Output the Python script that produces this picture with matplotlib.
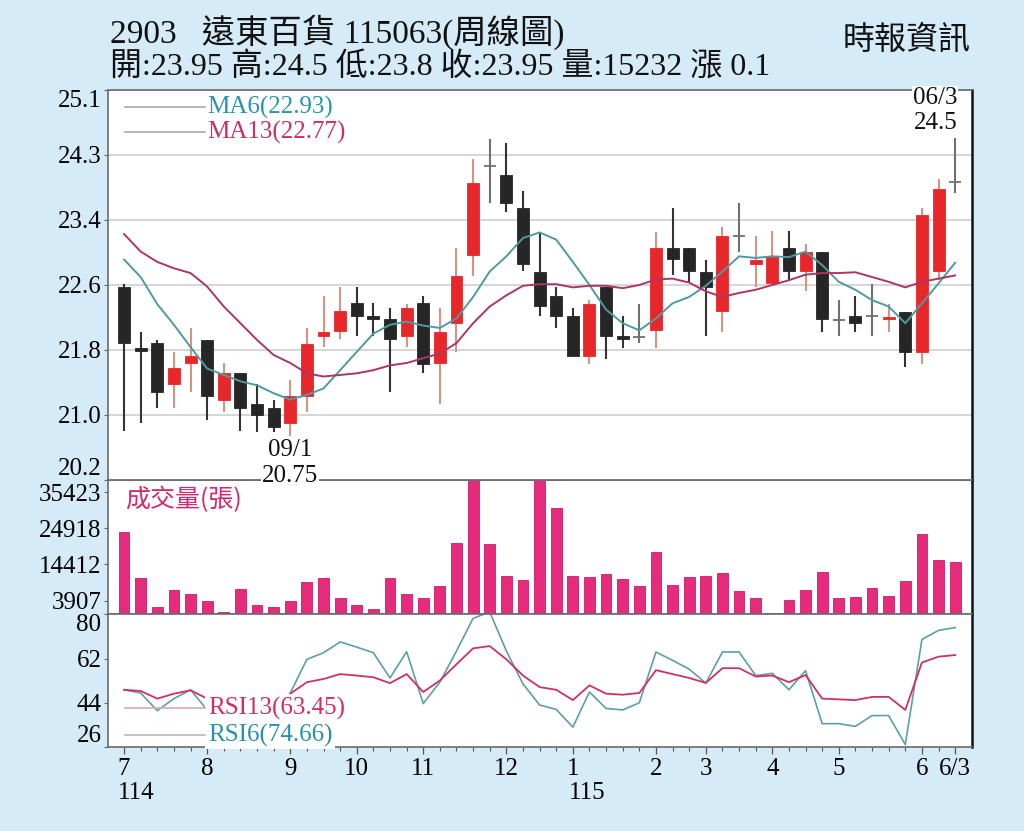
import matplotlib
matplotlib.use("Agg")
import matplotlib.pyplot as plt
import matplotlib.transforms as mtransforms
import numpy as np

# weekly candles, 114/07 .. 115/06/3
opens = [22.62, 21.86, 21.92, 21.41, 21.67, 21.96, 21.21, 21.55, 21.15, 21.10,
         20.91, 21.26, 22.01, 22.07, 22.42, 22.26, 22.22, 22.01, 22.42, 21.67,
         22.17, 23.03, 24.14, 24.03, 23.62, 22.81, 22.51, 22.26, 21.76, 22.62,
         22.01, 22.00, 22.08, 23.12, 23.12, 22.81, 22.32, 23.27, 22.92, 22.67,
         23.12, 22.82, 23.07, 22.21, 22.26, 22.26, 22.22, 22.31, 21.81, 22.82,
         23.95]
highs = [22.66, 22.06, 21.96, 21.81, 22.11, 21.96, 21.67, 21.55, 21.41, 21.21,
         21.46, 22.11, 22.51, 22.62, 22.62, 22.42, 22.36, 22.41, 22.51, 22.36,
         23.12, 24.23, 24.48, 24.44, 23.83, 23.31, 22.62, 22.36, 22.46, 22.62,
         22.26, 22.41, 23.32, 23.62, 23.12, 22.97, 23.38, 23.68, 23.27, 23.33,
         23.33, 23.17, 23.07, 22.46, 22.51, 22.66, 22.41, 22.31, 23.62, 23.98,
         24.50]
lows = [20.81, 20.91, 21.10, 21.10, 21.30, 20.95, 21.05, 20.81, 20.80, 20.80,
        20.75, 21.05, 21.87, 21.97, 22.01, 22.01, 21.30, 21.87, 21.55, 21.15,
        21.81, 22.76, 23.68, 23.57, 22.82, 22.26, 22.11, 21.76, 21.66, 21.72,
        21.86, 21.92, 21.86, 22.77, 22.67, 22.01, 22.06, 23.07, 22.62, 22.67,
        22.71, 22.57, 22.06, 22.01, 22.06, 22.01, 22.06, 21.62, 21.66, 22.71,
        23.80]
closes = [21.92, 21.82, 21.31, 21.61, 21.76, 21.26, 21.55, 21.11, 21.02, 20.86,
          21.26, 21.91, 22.06, 22.32, 22.26, 22.22, 21.97, 22.36, 21.66, 22.06,
          22.76, 23.93, 24.14, 23.68, 22.92, 22.38, 22.26, 21.76, 22.41, 22.01,
          21.97, 22.00, 23.12, 22.98, 22.82, 22.62, 23.27, 23.27, 22.96, 23.01,
          22.82, 23.07, 22.22, 22.21, 22.17, 22.26, 22.25, 21.81, 23.53, 23.85,
          23.95]
volumes = [23733, 10591, 1961, 6865, 5688, 3727, 490, 7355, 2746, 1961,
           3727, 9317, 10591, 4707, 2746, 1569, 10591, 5688, 4707, 8140,
           20595, 41000, 20398, 10984, 10003, 41000, 30892, 10984, 10788, 11572,
           10297, 8042, 18045, 8532, 10788, 10984, 11965, 6571, 4609, 392,
           4217, 6963, 12259, 4609, 4805, 7453, 5100, 9513, 23242, 15789,
           15232]
ma6 = [22.97, 22.75, 22.41, 22.15, 21.87, 21.60, 21.52, 21.44, 21.39, 21.29,
       21.21, 21.27, 21.35, 21.58, 21.81, 22.04, 22.15, 22.19, 22.14, 22.11,
       22.23, 22.50, 22.82, 23.01, 23.24, 23.31, 23.22, 22.94, 22.65, 22.34,
       22.17, 22.08, 22.23, 22.42, 22.50, 22.64, 22.82, 23.01, 22.99, 23.01,
       23.00, 23.07, 22.90, 22.69, 22.59, 22.46, 22.38, 22.17, 22.42, 22.67,
       22.93]
ma13 = [23.29, 23.07, 22.94, 22.86, 22.80, 22.63, 22.38, 22.17, 21.96, 21.77,
        21.67, 21.54, 21.50, 21.52, 21.54, 21.58, 21.64, 21.67, 21.73, 21.79,
        21.92, 22.17, 22.38, 22.52, 22.64, 22.66, 22.66, 22.62, 22.64, 22.64,
        22.61, 22.65, 22.72, 22.73, 22.68, 22.57, 22.50, 22.55, 22.59, 22.65,
        22.71, 22.78, 22.80, 22.80, 22.81, 22.75, 22.69, 22.62, 22.69, 22.73,
        22.77]
rsi13 = [49.3, 48.8, 45.7, 47.7, 49.1, 45.7, 44.5, 43.5, 43.0, 42.5,
         47.7, 52.4, 53.7, 55.7, 55.1, 54.4, 52.0, 55.7, 48.4, 53.1,
         59.7, 66.2, 67.1, 61.7, 55.1, 50.4, 49.3, 45.1, 51.1, 47.7,
         47.3, 48.0, 57.3, 55.7, 54.1, 52.1, 58.1, 58.1, 54.7, 55.1,
         52.4, 55.3, 45.7, 45.4, 45.1, 46.4, 46.4, 41.1, 60.4, 62.8,
         63.45]
rsi6 = [49.3, 48.0, 40.8, 45.7, 49.3, 41.1, 36.0, 32.0, 30.0, 30.0,
        48.0, 61.7, 64.4, 68.8, 66.7, 64.4, 54.1, 64.8, 43.7, 52.4,
        65.1, 78.4, 81.0, 65.1, 51.7, 43.1, 41.3, 34.1, 48.4, 41.7,
        41.1, 44.0, 64.7, 61.3, 57.7, 52.0, 64.7, 64.7, 55.1, 56.0,
        49.3, 57.1, 35.5, 35.5, 34.4, 38.8, 38.8, 27.0, 69.8, 73.5,
        74.66]

month_pos = [0, 5, 10, 14, 18, 23, 27, 32, 35, 39, 43, 48, 50]
month_labels = ["7", "8", "9", "10", "11", "12", "1", "2", "3", "4", "5", "6", "6/3"]
price_ticks = [20.2, 21.0, 21.8, 22.6, 23.4, 24.3, 25.1]
vol_ticks = [3907, 14412, 24918, 35423]
rsi_ticks = [26, 44, 62, 80]

BG = "#d5ebf8"
SERIF = ["Liberation Serif", "Noto Sans CJK TC"]
CJK = ["Noto Sans CJK TC", "Liberation Serif"]
plt.rcParams["font.family"] = SERIF

x = np.arange(len(closes))
fig = plt.figure(figsize=(10.24, 8.31), dpi=100, facecolor=BG)
L, W = 0.1058, 0.8432
ax = fig.add_axes([L, 0.4224, W, 0.4693])
axv = fig.add_axes([L, 0.2611, W, 0.1613])
axr = fig.add_axes([L, 0.1011, W, 0.1601])
ax.set_zorder(3)

for a in (ax, axv, axr):
    a.set_xlim(-0.945, 51.0)
    for s in ("left", "top", "bottom"):
        a.spines[s].set_color("#6a6a6a")
        a.spines[s].set_linewidth(1.2)
    a.spines["right"].set_color("#111111")
    a.spines["right"].set_linewidth(1.8)
    a.tick_params(axis="y", length=3, width=0.8, color="#666666", pad=2, labelsize=18)

# ---- price panel
ax.set_ylim(20.2, 25.1)
ax.set_yticks(np.linspace(20.2, 25.1, 7), [f"{v:.1f}" for v in price_ticks])
ax.grid(axis="y", color="#cfcfcf", lw=1.2)
ax.set_axisbelow(True)
ax.set_xticks([])

for i in x:
    o, h, l, c = opens[i], highs[i], lows[i], closes[i]
    if c > o:
        body, wick = "#e8272b", "#d39482"
    elif c < o:
        body, wick = "#262626", "#333333"
    else:
        body, wick = "#707070", "#707070"
    ax.vlines(i, l, h, color=wick, lw=1.5, zorder=2)
    if c == o:
        ax.hlines(c, i - 0.36, i + 0.36, color=body, lw=1.3, zorder=3)
    else:
        ax.bar(i, max(abs(c - o), 0.03), 0.72, bottom=min(o, c), color=body,
               edgecolor=body, lw=0.6, zorder=3)

ax.plot(x, ma6, color="#4e9aa3", lw=1.4, zorder=4)
ax.plot(x, ma13, color="#ad3664", lw=1.4, zorder=4)

ax.plot([0.0193, 0.112], [0.956, 0.956], transform=ax.transAxes, color="#a9a9a9", lw=1.2)
ax.plot([0.0193, 0.112], [0.892, 0.892], transform=ax.transAxes, color="#a9a9a9", lw=1.2)
ax.text(0.114, 0.956, "MA6(22.93)", transform=ax.transAxes, color="#2a93ae",
        fontsize=18, va="center", ha="left")
ax.text(0.114, 0.892, "MA13(22.77)", transform=ax.transAxes, color="#c7306a",
        fontsize=18, va="center", ha="left")

white = dict(facecolor="white", edgecolor="none", pad=0.5)
ax.annotate("09/1", xy=(10, 20.75), xytext=(0, -14), textcoords="offset pixels",
            ha="center", va="center", fontsize=18, color="#111111")
ax.annotate("20.75", xy=(10, 20.75), xytext=(0, -40), textcoords="offset pixels",
            ha="center", va="center", fontsize=18, color="#111111", bbox=white,
            annotation_clip=False)
ax.annotate("24.5", xy=(50, 24.5), xytext=(2, 15), textcoords="offset pixels",
            ha="right", va="center", fontsize=18, color="#111111")
ax.annotate("06/3", xy=(50, 24.5), xytext=(2, 40), textcoords="offset pixels",
            ha="right", va="center", fontsize=18, color="#111111", bbox=white,
            annotation_clip=False)

# ---- volume panel
axv.set_ylim(0, 38925)
axv.bar(x, volumes, 0.65, color="#e62a7c", edgecolor="#c81f66", lw=0.6)
axv.set_yticks(vol_ticks, [str(v) for v in vol_ticks])
axv.set_xticks([])
axv.text(0.0193, 0.85, "成交量(張)", transform=axv.transAxes, color="#d4286e",
         fontsize=18, va="center", ha="left", family=CJK)

# ---- RSI panel
axr.set_ylim(26.2, 80.2)
axr.plot(x, rsi6, color="#5f9ea6", lw=1.2, zorder=2)
axr.plot(x, rsi13, color="#d0306a", lw=1.3, zorder=2)
axr.set_yticks(rsi_ticks, [str(v) for v in rsi_ticks])
axr.plot([0.0193, 0.112], [0.293, 0.293], transform=axr.transAxes, color="#d9a9b9", lw=1.2, zorder=4)
axr.plot([0.0193, 0.112], [0.09, 0.09], transform=axr.transAxes, color="#a9bcbc", lw=1.2, zorder=4)
box = dict(facecolor="white", edgecolor="none", pad=2)
axr.text(0.1155, 0.293, "RSI13(63.45)", transform=axr.transAxes, color="#d42a6a",
         fontsize=18, va="center", ha="left", bbox=box, zorder=3)
axr.text(0.1155, 0.09, "RSI6(74.66)", transform=axr.transAxes, color="#2a8fb0",
         fontsize=18, va="center", ha="left", bbox=box, zorder=3)

axr.set_xticks(month_pos, month_labels)
axr.set_xticks(x, minor=True)
axr.tick_params(axis="x", which="major", length=5, width=0.9, color="#555555",
                labelsize=18, pad=3)
axr.tick_params(axis="x", which="minor", length=3, width=0.8, color="#555555")
trans = mtransforms.blended_transform_factory(axr.transData, axr.transAxes)
axr.text(-0.36, -0.345, "114", transform=trans, fontsize=18, ha="left", va="center")
axr.text(26.76, -0.345, "115", transform=trans, fontsize=18, ha="left", va="center")

# inner labels at the ends of each axis
for a in (ax, axr):
    labs = a.get_yticklabels()
    labs[0].set_va("bottom")
    labs[-1].set_va("top")

# ---- header
fig.text(0.1074, 0.9615, "2903   遠東百貨 115063(周線圖)", fontsize=24, va="center",
         ha="left", color="#111111")
fig.text(0.1074, 0.919, "開:23.95 高:24.5 低:23.8 收:23.95 量:15232 漲 0.1",
         fontsize=23, va="center", ha="left", color="#111111")
fig.text(0.948, 0.952, "時報資訊", fontsize=23, va="center", ha="right",
         color="#111111", family=CJK)

fig.savefig("out.png", dpi=100, facecolor=BG)
